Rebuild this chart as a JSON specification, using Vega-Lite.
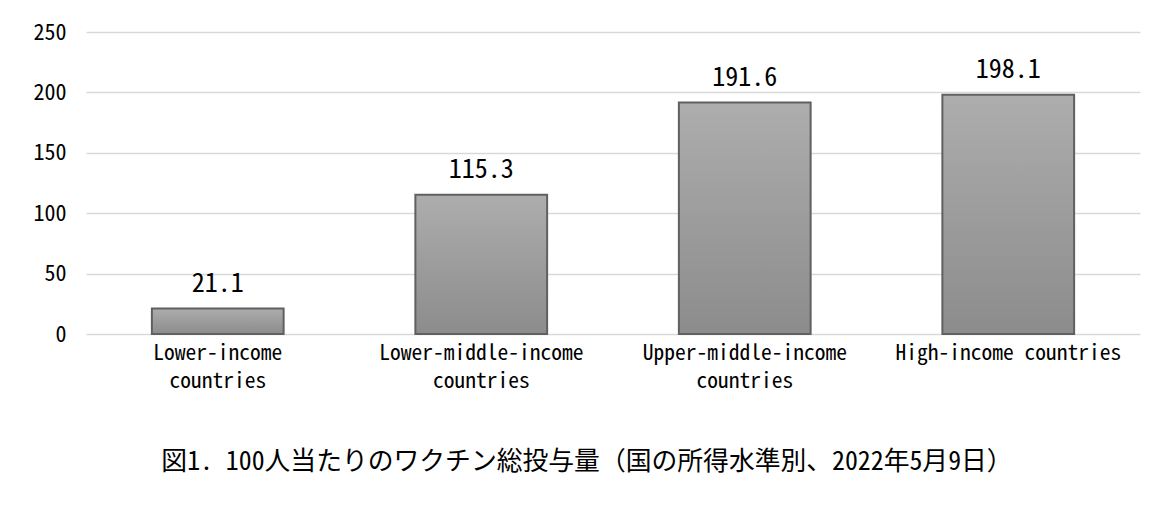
{
  "$schema": "https://vega.github.io/schema/vega-lite/v6.json",
  "width": 1054,
  "height": 302,
  "autosize": {"type": "none"},
  "padding": {"left": 86, "top": 32, "right": 21, "bottom": 180},
  "background": "white",
  "config": {"view": {"stroke": null}, "font": "Noto Sans Mono CJK JP"},
  "title": {
    "text": "図1. 100人当たりのワクチン総投与量（国の所得水準別、2022年5月9日）",
    "orient": "bottom",
    "anchor": "middle",
    "fontSize": 25.8,
    "fontWeight": "normal",
    "color": "#000000",
    "font": "Noto Sans Mono CJK JP",
    "offset": 58,
    "dx": -26
  },
  "data": {
    "values": [
      {"group": "Lower-income countries", "value": 21.1},
      {"group": "Lower-middle-income countries", "value": 115.3},
      {"group": "Upper-middle-income countries", "value": 191.6},
      {"group": "High-income countries", "value": 198.1}
    ]
  },
  "encoding": {
    "x": {
      "field": "group",
      "type": "nominal",
      "sort": null,
      "scale": {"paddingInner": 0.5, "paddingOuter": 0.25},
      "axis": {
        "title": null,
        "labelAngle": 0,
        "domain": false,
        "ticks": false,
        "labelFontSize": 21.5,
        "labelColor": "#000000",
        "labelPadding": 8,
        "labelLineHeight": 28,
        "labelLimit": 400,
        "labelExpr": "datum.value == 'High-income countries' ? datum.value : [replace(datum.value, ' countries', ''), 'countries']"
      }
    },
    "y": {
      "field": "value",
      "type": "quantitative",
      "scale": {"domain": [0, 250]},
      "axis": {
        "title": null,
        "values": [0, 50, 100, 150, 200, 250],
        "domain": false,
        "ticks": false,
        "gridColor": "#d9d9d9",
        "gridWidth": 1.5,
        "labelFontSize": 22,
        "labelColor": "#000000",
        "labelPadding": 20
      }
    }
  },
  "layer": [
    {
      "mark": {
        "type": "bar",
        "stroke": "#606060",
        "strokeWidth": 2,
        "color": {
          "gradient": "linear",
          "x1": 0, "y1": 0, "x2": 0, "y2": 1,
          "stops": [
            {"offset": 0, "color": "#adadad"},
            {"offset": 1, "color": "#8c8c8c"}
          ]
        }
      }
    },
    {
      "mark": {"type": "text", "dy": -25, "baseline": "middle", "fontSize": 26, "color": "#000000"},
      "encoding": {"text": {"field": "value", "type": "quantitative", "format": ".1f"}}
    }
  ]
}
